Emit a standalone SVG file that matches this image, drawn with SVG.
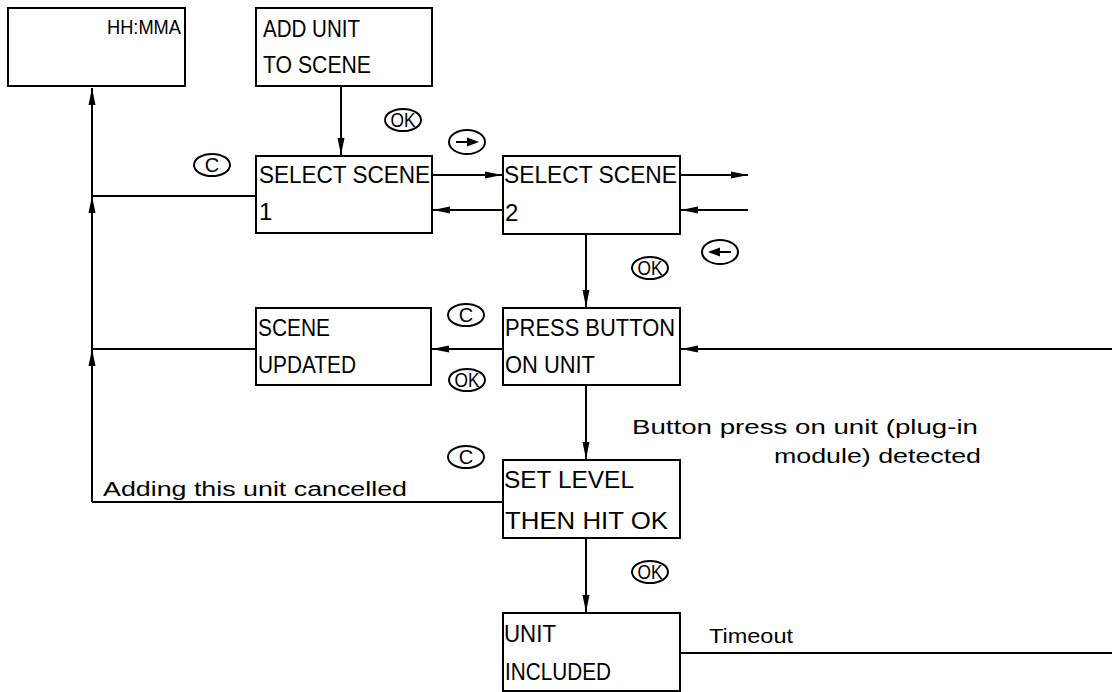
<svg xmlns="http://www.w3.org/2000/svg" width="1112" height="692" viewBox="0 0 1112 692">
<defs>
<marker id="ah" markerUnits="userSpaceOnUse" markerWidth="18" markerHeight="10" refX="17" refY="5" orient="auto">
<path d="M0,1.5 L17,5 L0,8.5 Z" fill="#000"/>
</marker>
<style>
.box{fill:#fff;stroke:#000;stroke-width:2}
.ln{fill:none;stroke:#000;stroke-width:2}
.t{font-family:"Liberation Sans",Arial,sans-serif;font-size:24px;fill:#000}
.s{font-family:"Liberation Sans",Arial,sans-serif;font-size:20px;fill:#000}
.k{font-family:"Liberation Sans",Arial,sans-serif;font-size:20px;fill:#000;text-anchor:middle}
.el{fill:#fff;stroke:#000;stroke-width:2}
</style>
</defs>
<rect width="1112" height="692" fill="#fff"/>
<g id="connectors">
<path class="ln" d="M92,502 L92,88" marker-end="url(#ah)"/>
<path class="ln" d="M256,196 L92,196" />
<path class="ln" d="M92,230 L92,196" marker-end="url(#ah)"/>
<path class="ln" d="M256,349 L92,349"/>
<path class="ln" d="M92,380 L92,349" marker-end="url(#ah)"/>
<path class="ln" d="M503,502 L92,502"/>
<path class="ln" d="M341,86 L341,155" marker-end="url(#ah)"/>
<path class="ln" d="M432,175 L502,175" marker-end="url(#ah)"/>
<path class="ln" d="M503,210 L433,210" marker-end="url(#ah)"/>
<path class="ln" d="M680,175 L748,175" marker-end="url(#ah)"/>
<path class="ln" d="M748,210 L681,210" marker-end="url(#ah)"/>
<path class="ln" d="M586,234 L586,307" marker-end="url(#ah)"/>
<path class="ln" d="M503,349 L432,349" marker-end="url(#ah)"/>
<path class="ln" d="M1112,349 L681,349" marker-end="url(#ah)"/>
<path class="ln" d="M586,386 L586,459" marker-end="url(#ah)"/>
<path class="ln" d="M586,538 L586,612" marker-end="url(#ah)"/>
<path class="ln" d="M680,653 L1112,653"/>
</g>
<g id="labels">
<text class="s" x="103" y="496" textLength="304" lengthAdjust="spacingAndGlyphs">Adding this unit cancelled</text>
<text class="s" x="632" y="434" textLength="346" lengthAdjust="spacingAndGlyphs">Button press on unit (plug-in</text>
<text class="s" x="774" y="463" textLength="207" lengthAdjust="spacingAndGlyphs">module) detected</text>
<text class="s" x="709" y="643" textLength="84" lengthAdjust="spacingAndGlyphs">Timeout</text>
</g>
<g id="keys">
<g id="key-ok1"><ellipse class="el" cx="403" cy="120" rx="18" ry="11"/><text class="k" x="403" y="127" textLength="25" lengthAdjust="spacingAndGlyphs">OK</text></g>
<g id="key-right"><ellipse class="el" cx="467" cy="142" rx="18" ry="12"/><path d="M456,142 L470,142" class="ln"/><path d="M467,137.5 L479,142 L467,146.5 Z" fill="#000"/></g>
<g id="key-c1"><ellipse class="el" cx="212" cy="165" rx="18" ry="11"/><text class="k" x="212" y="172">C</text></g>
<g id="key-left"><ellipse class="el" cx="720" cy="252" rx="18" ry="12"/><path d="M731,252 L717,252" class="ln"/><path d="M720,247.5 L708,252 L720,256.5 Z" fill="#000"/></g>
<g id="key-ok2"><ellipse class="el" cx="650" cy="268" rx="18" ry="11"/><text class="k" x="650" y="275" textLength="25" lengthAdjust="spacingAndGlyphs">OK</text></g>
<g id="key-c2"><ellipse class="el" cx="466" cy="315" rx="18" ry="11"/><text class="k" x="466" y="322">C</text></g>
<g id="key-ok3"><ellipse class="el" cx="467" cy="380" rx="18" ry="11"/><text class="k" x="467" y="387" textLength="25" lengthAdjust="spacingAndGlyphs">OK</text></g>
<g id="key-c3"><ellipse class="el" cx="466" cy="457" rx="18" ry="11"/><text class="k" x="466" y="464">C</text></g>
<g id="key-ok4"><ellipse class="el" cx="650" cy="572" rx="18" ry="11"/><text class="k" x="650" y="579" textLength="25" lengthAdjust="spacingAndGlyphs">OK</text></g>
</g>
<g id="n-clock"><rect class="box" x="8" y="8" width="177" height="78"/><text class="s" x="107" y="34" textLength="74" lengthAdjust="spacingAndGlyphs">HH:MMA</text></g>
<g id="n-add"><rect class="box" x="256" y="8" width="176" height="78"/><text class="t" x="263" y="37" textLength="97" lengthAdjust="spacingAndGlyphs">ADD UNIT</text><text class="t" x="263" y="73" textLength="108" lengthAdjust="spacingAndGlyphs">TO SCENE</text></g>
<g id="n-scene1"><rect class="box" x="256" y="156" width="176" height="77"/><text class="t" x="259" y="183" textLength="171" lengthAdjust="spacingAndGlyphs">SELECT SCENE</text><text class="t" x="259" y="220">1</text></g>
<g id="n-scene2"><rect class="box" x="503" y="156" width="177" height="78"/><text class="t" x="504" y="183" textLength="173" lengthAdjust="spacingAndGlyphs">SELECT SCENE</text><text class="t" x="505" y="221">2</text></g>
<g id="n-updated"><rect class="box" x="256" y="308" width="175" height="77"/><text class="t" x="258" y="336" textLength="72" lengthAdjust="spacingAndGlyphs">SCENE</text><text class="t" x="258" y="373" textLength="98" lengthAdjust="spacingAndGlyphs">UPDATED</text></g>
<g id="n-press"><rect class="box" x="503" y="308" width="177" height="77"/><text class="t" x="505" y="336" textLength="170" lengthAdjust="spacingAndGlyphs">PRESS BUTTON</text><text class="t" x="505" y="373" textLength="90" lengthAdjust="spacingAndGlyphs">ON UNIT</text></g>
<g id="n-level"><rect class="box" x="503" y="460" width="177" height="78"/><text class="t" x="504" y="488" textLength="130" lengthAdjust="spacingAndGlyphs">SET LEVEL</text><text class="t" x="505" y="529" textLength="163" lengthAdjust="spacingAndGlyphs">THEN HIT OK</text></g>
<g id="n-included"><rect class="box" x="503" y="613" width="177" height="78"/><text class="t" x="504" y="642" textLength="52" lengthAdjust="spacingAndGlyphs">UNIT</text><text class="t" x="505" y="680" textLength="106" lengthAdjust="spacingAndGlyphs">INCLUDED</text></g>
</svg>
